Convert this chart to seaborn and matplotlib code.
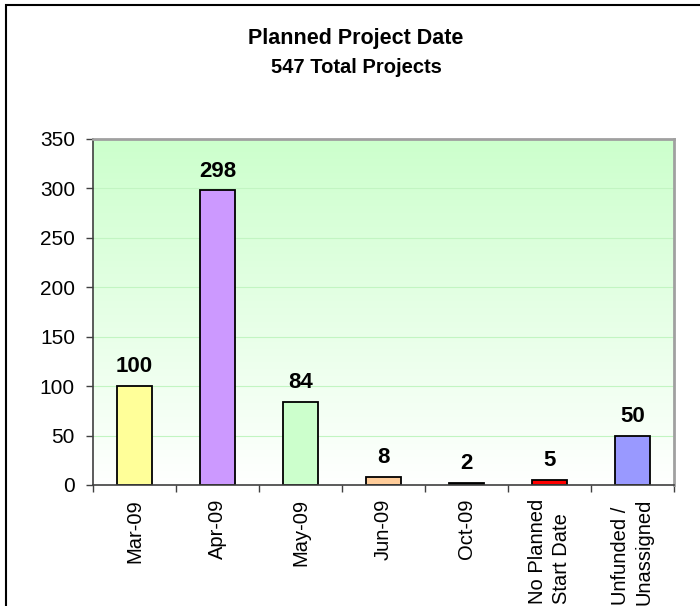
import numpy as np
import seaborn as sns
from matplotlib import pyplot as plt
from matplotlib.patches import Rectangle

categories = ['Mar-09', 'Apr-09', 'May-09', 'Jun-09', 'Oct-09',
              'No Planned\nStart Date', 'Unfunded /\nUnassigned']
values = [100, 298, 84, 8, 2, 5, 50]
bar_colors = ['#FFFF99', '#CC99FF', '#CCFFCC', '#FFCC99', '#000000', '#FF0000', '#9999FF']
title = 'Planned Project Date'
subtitle = '547 Total Projects'
yticks = [0, 50, 100, 150, 200, 250, 300, 350]

sns.set_theme(style='white')
plt.rcParams['font.family'] = ['Liberation Sans', 'DejaVu Sans']
plt.rcParams['text.color'] = 'black'
plt.rcParams['xtick.color'] = 'black'
plt.rcParams['ytick.color'] = 'black'

fig = plt.figure(figsize=(7, 6.06), dpi=100)
ax = fig.add_axes([93 / 700, 1 - 485 / 606, 581 / 700, 346 / 606])

# gradient background: light green at top fading to white
grad = np.linspace(0, 1, 256).reshape(-1, 1)
top = np.array([0xCC, 0xFF, 0xCC]) / 255
img = top[None, None, :] * grad[:, :, None] + (1 - grad[:, :, None])
ax.imshow(img, extent=[0, 1, 0, 1], transform=ax.transAxes, origin='lower',
          aspect='auto', zorder=0)

for v in yticks[1:-1]:
    ax.axhline(v, color='#c2f5c2', lw=0.8, zorder=0.5)

sns.barplot(x=categories, y=values, hue=categories, palette=bar_colors, legend=False,
            width=0.41, edgecolor='black', linewidth=1.3, saturation=1, ax=ax, zorder=2)

for i, v in enumerate(values):
    ax.annotate(str(v), (i, v), xytext=(0, 10), textcoords='offset points',
                ha='center', va='baseline', fontsize=16, fontweight='bold',
                color='black')

ax.set_ylim(0, 350)
ax.set_xlim(-0.5, len(categories) - 0.5)
ax.set_yticks(yticks)
ax.set_yticklabels([str(t) for t in yticks], fontsize=15)
ax.set_xticks(range(len(categories)))
ax.set_xticklabels(categories, rotation=90, fontsize=14.5, va='top', ha='center',
                   multialignment='left', linespacing=1.3)
ax.set_xticks(np.arange(-0.5, len(categories), 1), minor=True)
ax.tick_params(axis='x', which='major', length=0, pad=10)
ax.tick_params(axis='x', which='minor', length=5, width=1, color='#404040', bottom=True)
ax.tick_params(axis='y', length=5, width=1, color='#404040', left=True, pad=8)
ax.set_xlabel('')
ax.set_ylabel('')

for side in ['left', 'bottom']:
    ax.spines[side].set_color('#404040')
    ax.spines[side].set_linewidth(1.2)
for side in ['top', 'right']:
    ax.spines[side].set_visible(True)
    ax.spines[side].set_color('#a0a0a0')
    ax.spines[side].set_linewidth(2)

fig.text(356 / 700, 1 - 44 / 606, title, ha='center', va='baseline', fontsize=15.5,
         fontweight='bold')
fig.text(356 / 700, 1 - 73 / 606, subtitle, ha='center', va='baseline', fontsize=14.5,
         fontweight='bold')

# outer chart border (cut off at the right and bottom in the original)
fig.patches.append(Rectangle((6 / 700, -0.05), 1.0, 1 - 5 / 606 + 0.05,
                             transform=fig.transFigure, fill=False,
                             edgecolor='black', lw=1.5))

fig.savefig('out.png', dpi=100)
